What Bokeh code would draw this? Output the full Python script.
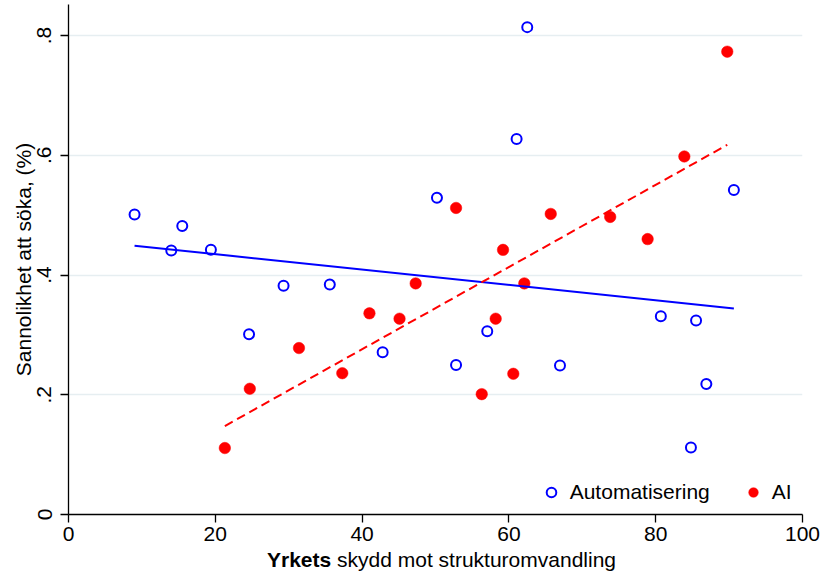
import numpy as np
from bokeh.plotting import figure
from bokeh.models import Range1d, FixedTicker, Legend, LegendItem, Div
from bokeh.layouts import column
from bokeh.embed import file_html
from bokeh.resources import INLINE

# Automatisering (hollow blue circles)
auto_x = [9.0, 14.0, 15.5, 19.4, 24.6, 29.3, 35.6, 42.8, 50.2, 52.8, 57.05, 61.05, 62.5,
          66.96, 80.7, 85.5, 86.9, 84.8, 90.65]
auto_y = [0.501, 0.441, 0.482, 0.442, 0.301, 0.382, 0.384, 0.271, 0.529, 0.2495, 0.306, 0.627,
          0.814, 0.249, 0.331, 0.324, 0.218, 0.112, 0.542]

# AI (filled red circles)
ai_x = [21.3, 24.7, 31.4, 37.3, 41.0, 45.1, 47.3, 52.8, 56.3, 58.2, 59.2, 60.6, 62.1, 65.7,
        73.8, 78.9, 83.9, 89.75]
ai_y = [0.111, 0.210, 0.278, 0.236, 0.336, 0.327, 0.386, 0.512, 0.201, 0.327, 0.442, 0.235,
        0.386, 0.502, 0.497, 0.460, 0.598, 0.773]

x_ticks = [0, 20, 40, 60, 80, 100]
y_ticks = [0, 0.2, 0.4, 0.6, 0.8]
y_tick_labels = ["0", ".2", ".4", ".6", ".8"]

series_labels = ["Automatisering", "AI"]
y_title = "Sannolikhet att söka, (%)"
x_title_bold = "Yrkets"
x_title_rest = "skydd mot strukturomvandling"

FONT = "Liberation Sans"
FS = "21px"

p = figure(width=820, height=547, x_range=Range1d(0, 100), y_range=Range1d(0, 0.8518),
           output_backend="svg", toolbar_location=None,
           min_border_left=68, min_border_right=18, min_border_top=4, min_border_bottom=33)
p.outline_line_color = None
p.background_fill_color = "white"
p.border_fill_color = "white"

p.xgrid.visible = False
p.ygrid.grid_line_color = "#E6EEF1"
p.ygrid.grid_line_width = 1.5

p.xaxis.ticker = FixedTicker(ticks=x_ticks)
p.yaxis.ticker = FixedTicker(ticks=y_ticks)
p.yaxis.major_label_overrides = {t: l for t, l in zip(y_ticks, y_tick_labels)}
p.yaxis.major_label_orientation = "vertical"

for ax in (p.xaxis[0], p.yaxis[0]):
    ax.axis_line_color = "black"
    ax.axis_line_width = 1.3
    ax.major_tick_line_color = "black"
    ax.major_tick_line_width = 1.3
    ax.major_tick_out = 8
    ax.major_tick_in = 0
    ax.minor_tick_line_color = None
    ax.major_label_text_font = FONT
    ax.major_label_text_font_size = FS
    ax.major_label_text_color = "black"
p.xaxis.major_label_standoff = 4
p.yaxis.major_label_standoff = 9

p.yaxis.axis_label = y_title
p.yaxis.axis_label_text_font = FONT
p.yaxis.axis_label_text_font_size = FS
p.yaxis.axis_label_text_font_style = "normal"
p.yaxis.axis_label_text_color = "black"
p.yaxis.axis_label_standoff = 0

r_auto = p.scatter(auto_x, auto_y, marker="circle", size=10, fill_color=None,
                   line_color="blue", line_width=2)
r_ai = p.scatter(ai_x, ai_y, marker="circle", size=11.5, fill_color="red",
                 line_color="red", line_width=0.5)

# linear fits
ax_arr, ay_arr = np.array(auto_x), np.array(auto_y)
b1, b0 = np.polyfit(ax_arr, ay_arr, 1)
fx = np.array([ax_arr.min(), ax_arr.max()])
p.line(fx, b0 + b1 * fx, line_color="blue", line_width=2)

bx_arr, by_arr = np.array(ai_x), np.array(ai_y)
c1, c0 = np.polyfit(bx_arr, by_arr, 1)
gx = np.array([bx_arr.min(), bx_arr.max()])
p.line(gx, c0 + c1 * gx, line_color="red", line_width=2, line_dash="9 5")

legend = Legend(items=[LegendItem(label=series_labels[0], renderers=[r_auto]),
                       LegendItem(label=series_labels[1], renderers=[r_ai])],
                location=(470.7, 10), orientation="horizontal",
                glyph_width=24, glyph_height=24, label_standoff=7, spacing=31,
                padding=0, margin=0, border_line_color=None, background_fill_alpha=0,
                label_text_font=FONT, label_text_font_size=FS, label_text_color="black")
p.add_layout(legend)

xtitle = Div(text=f"<b>{x_title_bold}</b> {x_title_rest}", width=820, height=18,
             styles={"font-family": FONT, "font-size": FS, "line-height": "16px",
                     "color": "black", "text-align": "left", "text-indent": "262px",
                     "white-space": "nowrap"})

layout = column(p, xtitle, spacing=0)

open("out.html", "w").write(file_html(layout, INLINE))
